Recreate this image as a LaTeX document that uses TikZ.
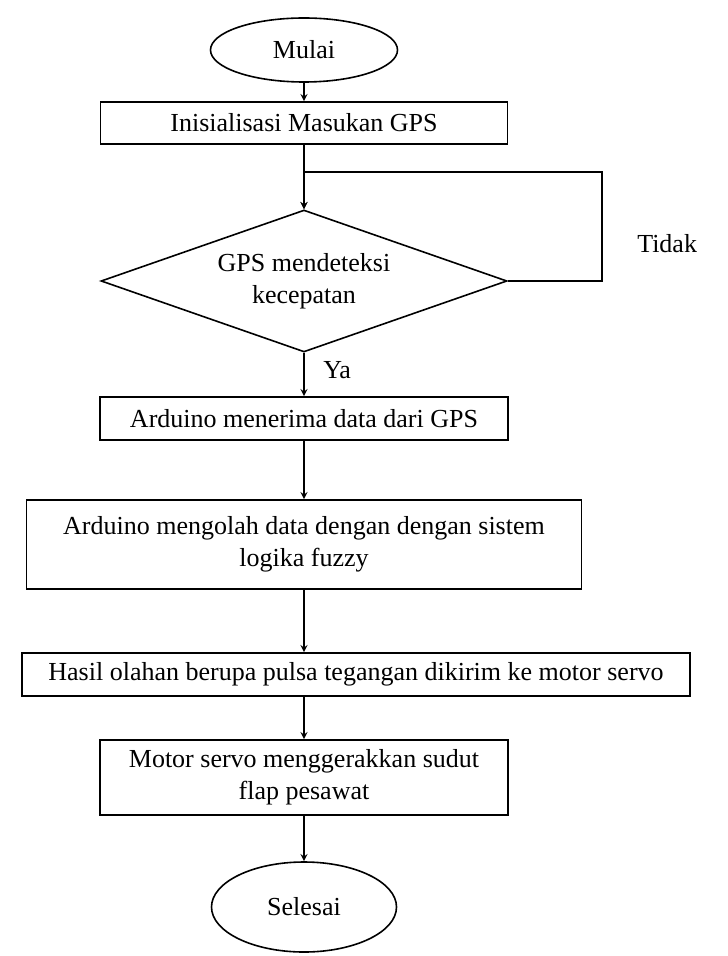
\documentclass[tikz,border=0pt]{standalone}
\usepackage{fontspec}
\setmainfont{Liberation Serif}
\usetikzlibrary{shapes.geometric, arrows, positioning}

\begin{document}
\begin{tikzpicture}[
    x=0.5pt, y=-0.5pt,
    font=\fontsize{13}{16}\selectfont,
    box/.style={draw, rectangle, align=center, inner sep=0pt, line width=0.8pt},
    term/.style={draw, ellipse, inner sep=0pt, line width=0.8pt},
    decision/.style={draw, diamond, aspect=2.86, inner sep=0pt, align=center, line width=0.8pt},
    arrow/.style={->, line width=0.6pt, >=stealth}
]
    \useasboundingbox (0,0) rectangle (727,956);
    \node[term, minimum width=93.5pt, minimum height=32pt] (mulai) at (304,50) {Mulai};
    \node[box, minimum width=203.5pt, minimum height=21pt] (init) at (304,123) {Inisialisasi Masukan GPS};
    \node[decision, minimum width=203pt, minimum height=71pt] (cek) at (304,281) {GPS mendeteksi\\kecepatan};
    \node[box, minimum width=204pt, minimum height=21.5pt] (terima) at (304,418.5) {Arduino menerima data dari GPS};
    \node[box, minimum width=277.5pt, minimum height=44.5pt] (olah) at (304,544.5) {Arduino mengolah data dengan dengan sistem\\logika fuzzy};
    \node[box, minimum width=334pt, minimum height=21.5pt] (kirim) at (356,674.5) {Hasil olahan berupa pulsa tegangan dikirim ke motor servo};
    \node[box, minimum width=204pt, minimum height=37.5pt] (gerak) at (304,777.5) {Motor servo menggerakkan sudut\\flap pesawat};
    \node[term, minimum width=92.5pt, minimum height=45pt] (selesai) at (304,907) {Selesai};
    \coordinate (balik) at (602,172);

    \draw[arrow] (mulai) -- (init);
    \draw[arrow] (init) -- (cek);
    \draw[arrow] (cek.east) -- (balik |- cek.east) -- node[pos=0.34, right=14pt] {Tidak} (balik) -| (cek.north);
    \draw[arrow] (cek) -- node[pos=0.4, right=6pt] {Ya} (terima);
    \draw[arrow] (terima) -- (olah);
    \draw[arrow] (olah) -- (olah |- kirim.north);
    \draw[arrow] (kirim.south -| gerak) -- (gerak);
    \draw[arrow] (gerak) -- (selesai);
\end{tikzpicture}
\end{document}
